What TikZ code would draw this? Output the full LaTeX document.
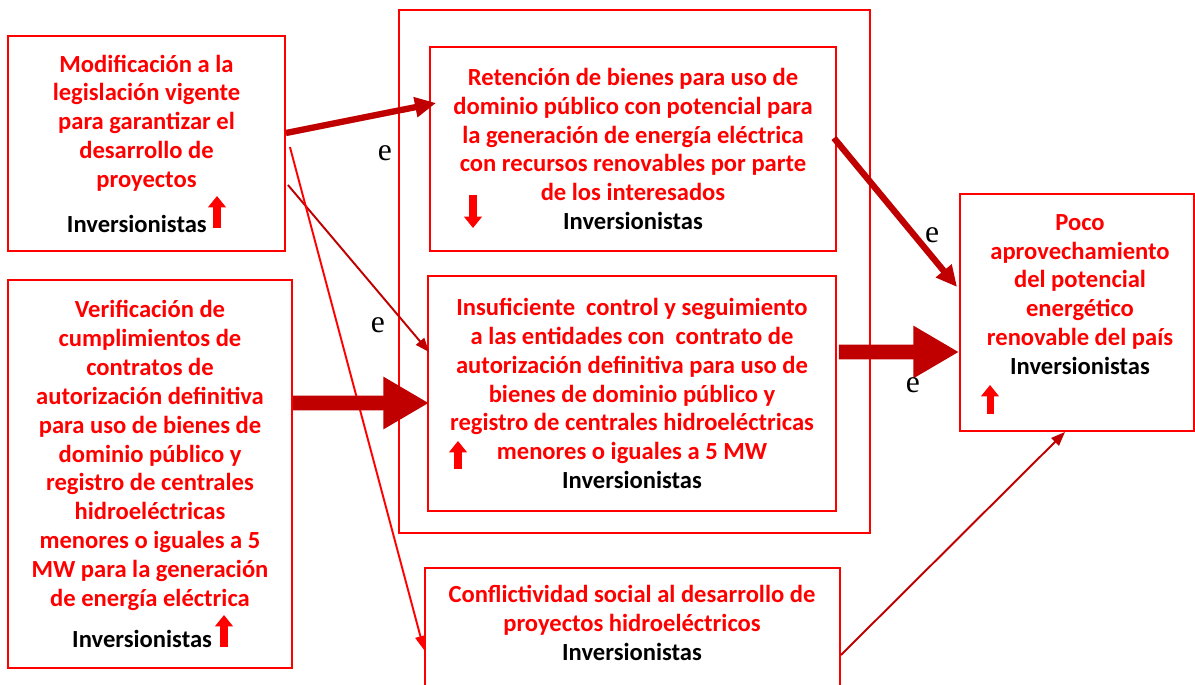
\documentclass[tikz,border=0pt]{standalone}
\usepackage{fontspec}
\setmainfont{Carlito}
\newfontfamily\serifE{Liberation Serif}
\usepackage{tikz}
\usetikzlibrary{positioning,arrows.meta}
\definecolor{darkred}{HTML}{C00000}

\begin{document}
\begin{tikzpicture}[x=0.02cm, y=-0.02cm,
    txt/.style={text=red, font=\bfseries\fontsize{14}{16.4}\selectfont, align=center, inner sep=0pt},
    box/.style={txt, draw=red, line width=1.1pt},
    frame/.style={draw=red, line width=1.1pt, inner sep=0pt},
    arr/.style={-{Triangle[length=12pt,width=11pt]}, line width=3.6pt, #1},
    arr/.default={darkred},
    bigarr/.style={-{Triangle[length=26pt,width=28pt]}, line width=8.5pt, darkred},
    thinarr/.style={-{Triangle[length=8pt,width=6pt]}, line width=1.1pt, #1},
    thinarr/.default={darkred},
    trend/.style={-{Triangle[length=6.5pt,width=10pt]}, line width=4pt, red},
    lbl/.style={font=\serifE\fontsize{18}{18}\selectfont, inner sep=0pt},
]
\useasboundingbox (0,0) rectangle (1195,684);

% ===== BOXES =====
\node[frame, minimum width=9.42cm, minimum height=10.46cm] (grupo) at (634.5,271.5) {};

\node[box, minimum width=5.54cm, minimum height=4.30cm] (modif) at (146.5,143.5)
    {Modificación a la\\legislación vigente\\para garantizar el\\desarrollo de\\proyectos\\[9pt]{\color{black}Inversionistas}\hspace*{11pt}};
\node[box, minimum width=5.68cm, minimum height=7.76cm] (verif) at (150,474)
    {Verificación de\\cumplimientos de\\contratos de\\autorización definitiva\\para uso de bienes de\\dominio público y\\registro de centrales\\hidroeléctricas\\menores o iguales a 5\\MW para la generación\\de energía eléctrica\\[7pt]{\color{black}Inversionistas}\hspace*{9pt}};

\node[box, minimum width=8.12cm, minimum height=4.08cm] (retencion) at (633,149)
    {Retención de bienes para uso de\\dominio público con potencial para\\la generación de energía eléctrica\\con recursos renovables por parte\\de los interesados\\{\color{black}Inversionistas}};
\node[box, minimum width=8.16cm, minimum height=4.70cm] (control) at (632,393.5)
    {Insuficiente~ control y seguimiento\\a las entidades con~ contrato de\\autorización definitiva para uso de\\bienes de dominio público y\\registro de centrales hidroeléctricas\\menores o iguales a 5 MW\\{\color{black}Inversionistas}};

\node[frame, minimum width=8.30cm, minimum height=2.80cm] (conflicto) at (632.5,638) {};
\node[txt] (conflictoTxt) at (632,623)
    {Conflictividad social al desarrollo de\\proyectos hidroeléctricos\\{\color{black}Inversionistas}};

\node[frame, minimum width=4.68cm, minimum height=4.74cm] (poco) at (1077,312.5) {};
\node[txt] (pocoTxt) at (1080,294.5)
    {Poco\\aprovechamiento\\del potencial\\energético\\renovable del país\\{\color{black}Inversionistas}};

% trend marks
\draw[trend] (217,228) -- (217,196);
\draw[trend] (224,647) -- (224,615);
\draw[trend] (473,195) -- (473,228);
\draw[trend] (458,469) -- (458,441);
\draw[trend] (990,414) -- (990,385);

% ===== ARROWS =====
\draw[arr] ([yshift=0.21cm]modif.east) -- ([xshift=0.14cm, yshift=0.92cm]retencion.west);
\draw[thinarr] ([xshift=0.04cm, yshift=-0.83cm]modif.east) -- ([xshift=0.04cm, yshift=0.83cm]control.west);
\draw[thinarr=red] ([xshift=0.08cm, yshift=-0.07cm]modif.east) -- ([yshift=-0.24cm]conflicto.west);
\draw[bigarr] ([yshift=1.42cm]verif.east) -- ([xshift=0.04cm, yshift=-0.19cm]control.west);
\draw[arr] ([xshift=-0.06cm, yshift=0.22cm]retencion.east) -- ([xshift=-0.04cm, yshift=0.51cm]poco.west);
\draw[bigarr] ([xshift=0.04cm, yshift=0.83cm]control.east) -- ([yshift=-0.79cm]poco.west);
\draw[thinarr] ([yshift=-0.34cm]conflicto.east) -- ([xshift=-0.24cm]poco.south);

\node[lbl] (e1) at (385,153) {e};
\node[lbl] (e2) at (378,325) {e};
\node[lbl] (e3) at (932,235) {e};
\node[lbl] (e4) at (913,385) {e};

\end{tikzpicture}
\end{document}
